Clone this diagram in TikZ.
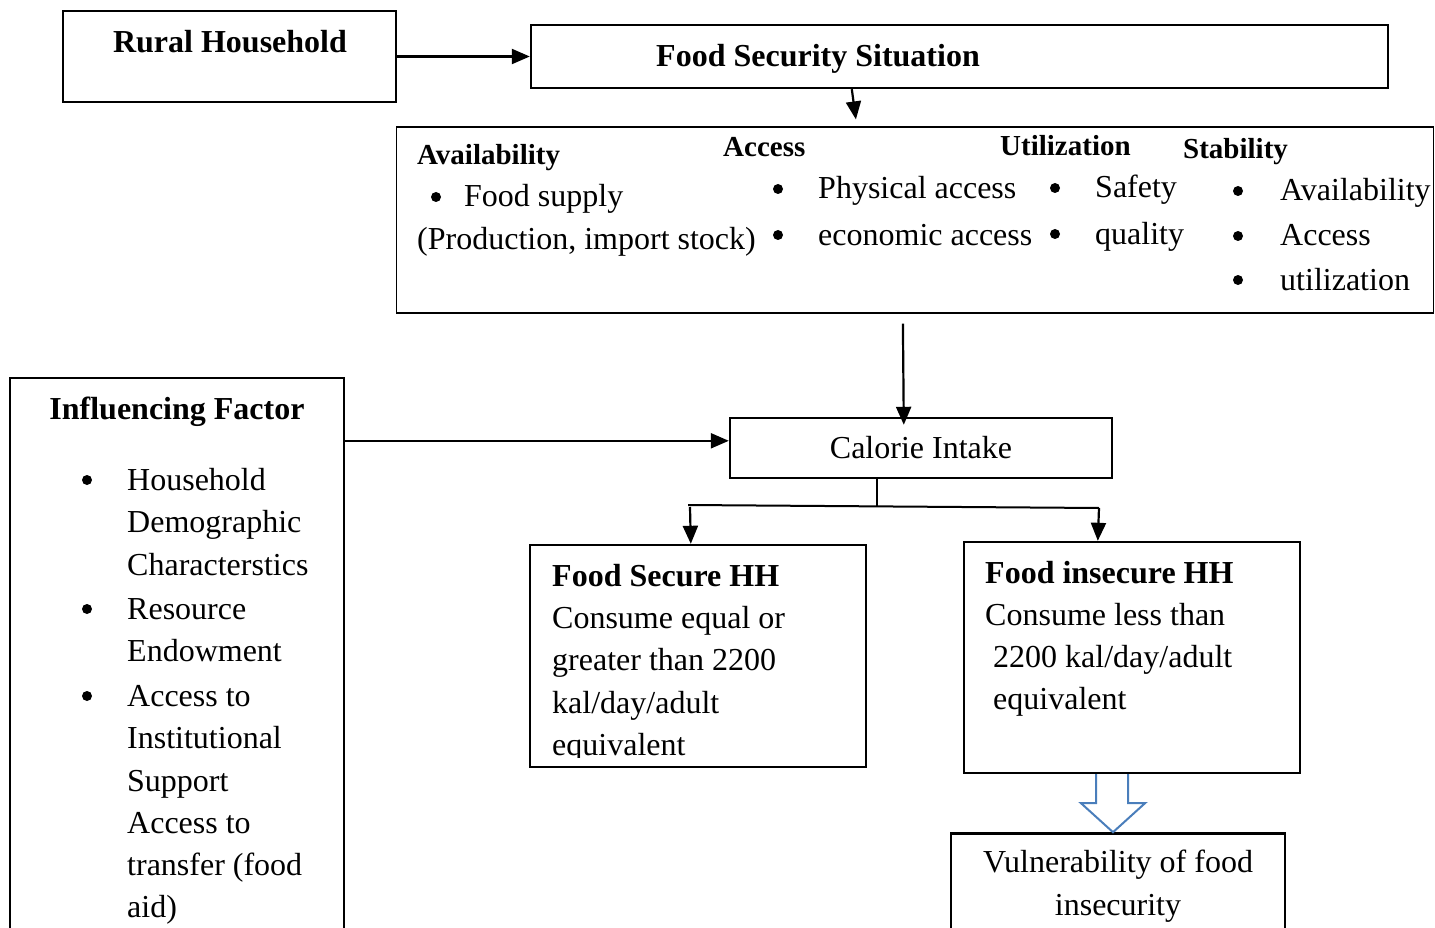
\documentclass[tikz,border=0pt]{standalone}
\usepackage{fontspec}
\setmainfont{Liberation Serif}
\usepackage{tikz}
\usetikzlibrary{positioning, arrows.meta, calc}
\definecolor{hollowblue}{RGB}{74,126,187}

\begin{document}
\begin{tikzpicture}[
        x=1pt, y=-1pt,
        font=\fontsize{32}{43}\selectfont,
        box/.style={draw, rectangle, line width=2.4pt, inner sep=0pt},
        thinbox/.style={draw, rectangle, line width=1.2pt, inner sep=0pt},
        txt/.style={anchor=base west, inner sep=0pt},
        head/.style={txt, font=\fontsize{32}{43}\selectfont\bfseries},
        subhead/.style={txt, font=\fontsize{29}{43}\selectfont\bfseries},
        bul/.style={circle, fill, inner sep=0pt, minimum size=10pt},
        arr/.style={-{Triangle[length=18pt, width=15pt]}, line width=2.2pt},
        hollow/.style={draw=hollowblue, line width=2pt}
    ]
    \useasboundingbox (0,0) rectangle (1435,928);

    % Top row
    \node[box, minimum width=333pt, minimum height=91pt] (rural) at (229.5,56.5) {};
    \node[head, anchor=base] (ruraltxt) at (230,53) {Rural Household};
    \node[box, minimum width=857pt, minimum height=63pt] (fss) at (959.5,56.5) {};
    \node[head, anchor=base] (fsstxt) at (818,67) {Food Security Situation};
    \draw[arr] (rural.east) -- (fss.west);

    % Four dimensions
    \node[thinbox, minimum width=1037pt, minimum height=186pt] (dims) at (915,220) {};
    \draw[arr] ($(fss.south west)+(322,0)$) -- ($(dims.north west)+(460,-7)$);

    \node[subhead] (avail) at (417,165) {Availability};
    \node[bul] (availb) at (436,197) {};
    \node[txt] (avail1) at (464,207) {Food supply};
    \node[txt] (avail2) at (417,250) {(Production, import stock)};

    \node[subhead] (access) at (723,157) {Access};
    \node[bul] (accessb1) at (778,189) {};
    \node[bul] (accessb2) at (778,235) {};
    \node[txt] (access1) at (818,199) {Physical access};
    \node[txt] (access2) at (818,245) {economic access};

    \node[subhead] (util) at (1000,156) {Utilization};
    \node[bul] (utilb1) at (1055,188) {};
    \node[bul] (utilb2) at (1055,234) {};
    \node[txt] (util1) at (1095,198) {Safety};
    \node[txt] (util2) at (1095,244) {quality};

    \node[subhead] (stab) at (1183,159) {Stability};
    \foreach \y/\t [count=\i] in {201/Availability, 246/Access, 290/utilization} {
        \node[bul] (stabb\i) at (1238,\y-10) {};
        \node[txt] (stab\i) at (1280,\y) {\t};
    }

    % Calorie intake
    \node[box, minimum width=382pt, minimum height=60pt] (calorie) at (921,448) {Calorie Intake};
    \draw[arr] ($(dims.south west)+(507,10)$) -- ($(calorie.north west)+(175,8)$);

    % Influencing factor
    \node[box, minimum width=334pt, minimum height=580pt] (infl) at (177,668) {};
    \node[head, anchor=base] (infltitle) at (177,419) {Influencing Factor};
    \foreach \y [count=\i] in {490,619,706}
        \node[bul] (inflb\i) at (87,\y-10) {};
    \foreach \y/\t [count=\i] in {490/Household, 532/Demographic, 575/Characterstics,
            619/Resource, 661/Endowment, 706/Access to, 748/Institutional, 791/Support,
            833/Access to, 875/{transfer (food}, 917/aid)}
        \node[txt] (infl\i) at (127,\y) {\t};
    \draw[arr] ($(infl.north east)+(0,64)$) -- ($(calorie.north west)+(0,24)$);

    % Outcomes
    \node[box, minimum width=336pt, minimum height=222pt] (secure) at (698,656) {};
    \begin{scope}
        \clip (530,545) rectangle (866,757);
        \node[head] (securetitle) at (552,586) {Food Secure HH};
        \node[txt] (secure1) at (552,628) {Consume equal or};
        \node[txt] (secure2) at (552,670) {greater than 2200};
        \node[txt] (secure3) at (552,713) {kal/day/adult};
        \node[txt] (secure4) at (552,755) {equivalent};
    \end{scope}

    \node[box, minimum width=336pt, minimum height=231pt] (insecure) at (1132,657.5) {};
    \node[head] (insecuretitle) at (985,583) {Food insecure HH};
    \node[txt] (insecure1) at (985,625) {Consume less than};
    \node[txt] (insecure2) at (993,667) {2200 kal/day/adult};
    \node[txt] (insecure3) at (993,709) {equivalent};

    \draw[line width=2pt] ($(calorie.south west)+(148,0)$) -- ++(0,27);
    \coordinate (bl) at (688,505);
    \coordinate (br) at (1099,508);
    \draw[line width=2pt] (bl) -- (br);
    \draw[arr] ($(bl)+(2,2)$) -- ($(secure.north west)+(162,0)$);
    \draw[arr] (br) -- ($(insecure.north west)+(135,0)$);

    % Vulnerability
    \node[box, minimum width=334pt, minimum height=130pt, below=58pt of insecure, xshift=-14pt] (vuln) {};
    \draw[hollow] ($(insecure.south)+(-36,0)$) -- ++(0,29) -- ++(-15,0) -- ++(32,29)
        -- ++(32,-29) -- ++(-17,0) -- ++(0,-29);
    \node[anchor=base, inner sep=0pt] (vuln1) at (1118,872) {Vulnerability of food};
    \node[anchor=base, inner sep=0pt] (vuln2) at (1118,915) {insecurity};

\end{tikzpicture}
\end{document}
